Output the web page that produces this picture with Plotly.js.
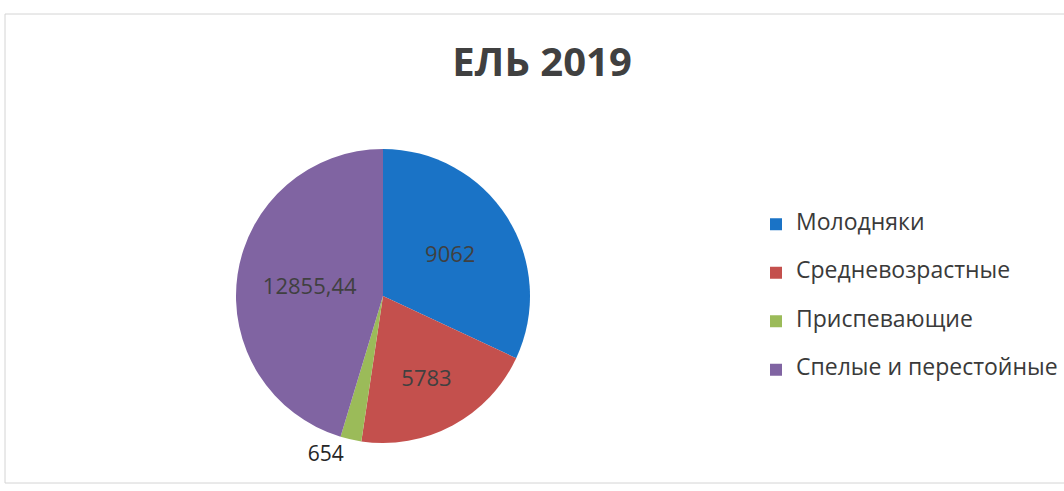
<!DOCTYPE html>
<html>
<head>
<meta charset="utf-8">
<script src="https://cdn.plot.ly/plotly-3.0.1.min.js"></script>
<style>
html,body{margin:0;padding:0;background:#fff;}
#chart{width:1064px;height:491px;}
</style>
</head>
<body>
<div id="chart"></div>
<script>
var categories = ["Молодняки", "Средневозрастные", "Приспевающие", "Спелые и перестойные"];
var values = [9062, 5783, 654, 12855.44];
var colors = ["#1a73c6", "#c4504d", "#9bbb59", "#8064a2"];
var titleText = "ЕЛЬ 2019";

var W = 1064, H = 491;
var cx = 383, cy = 296, r = 147;

var labelText = values.map(function (v) { return String(v).replace(".", ","); });
var legendNames = categories.map(function (c) {
  return '<span style="font-size:23px;baseline-shift:8px">' + c + '</span>';
});

var trace = {
  type: "pie",
  labels: legendNames,
  values: values,
  text: labelText,
  textinfo: "text",
  hoverinfo: "label+value",
  sort: false,
  direction: "clockwise",
  rotation: 0,
  marker: { colors: colors, line: { color: "#ffffff", width: 0 } },
  textposition: ["inside", "inside", "outside", "inside"],
  insidetextorientation: "horizontal",
  insidetextfont: { family: "Open Sans, sans-serif", size: 22, color: "#404040" },
  outsidetextfont: { family: "Open Sans, sans-serif", size: 21, color: "#262626" },
  domain: {
    x: [(cx - r) / W, (cx + r) / W],
    y: [(H - cy - r) / H, (H - cy + r) / H]
  },
  showlegend: true
};

var layout = {
  width: W,
  height: H,
  margin: { l: 0, r: 0, t: 0, b: 0 },
  paper_bgcolor: "#ffffff",
  plot_bgcolor: "#ffffff",
  title: {
    text: "<b>" + titleText + "</b>",
    x: 542 / W,
    xanchor: "center",
    y: (H - 62) / H,
    yanchor: "middle",
    font: { family: "Open Sans, sans-serif", size: 40, color: "#404040" }
  },
  legend: {
    x: 756 / W,
    xanchor: "left",
    y: (H - 195) / H,
    yanchor: "top",
    font: { family: "Open Sans, sans-serif", size: 35, color: "#3a3a3a" },
    bgcolor: "rgba(0,0,0,0)",
    borderwidth: 0
  },
  shapes: [{
    type: "rect",
    xref: "paper", yref: "paper",
    x0: 5 / W, x1: 1.02,
    y0: (H - 483) / H, y1: (H - 14) / H,
    line: { color: "#d4d4d4", width: 1 },
    fillcolor: "rgba(0,0,0,0)"
  }]
};

Plotly.newPlot("chart", [trace], layout, { displayModeBar: false, staticPlot: true });
</script>
</body>
</html>
